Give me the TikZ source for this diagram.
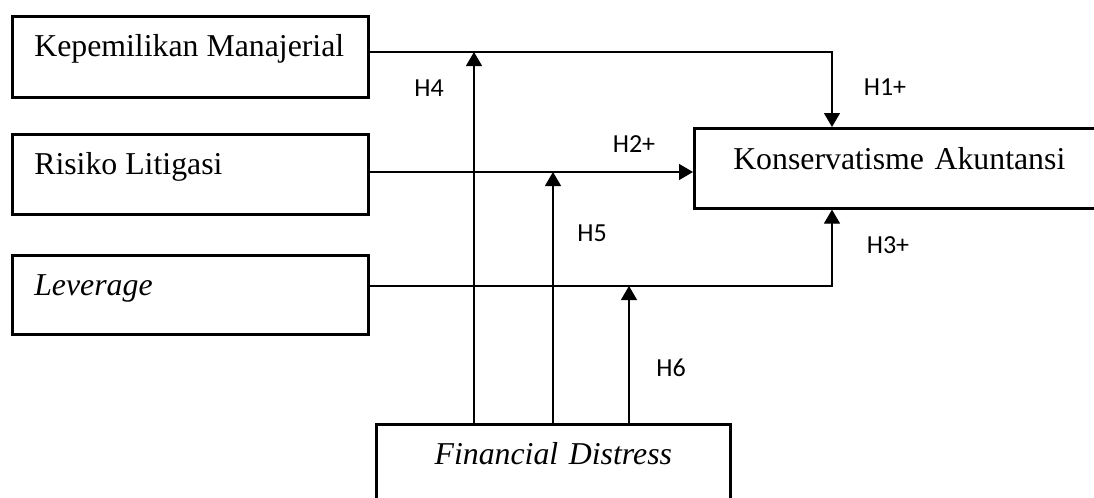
\documentclass[tikz,border=0pt]{standalone}
\usepackage{fontspec}
\setmainfont{Liberation Serif}
\newfontfamily\hypfont{Carlito}
\usetikzlibrary{arrows.meta}
\newcommand{\vartext}[1]{\makebox[156pt][l]{#1}}

\begin{document}
\begin{tikzpicture}[x=0.5pt,y=-0.5pt,
  box/.style={draw,line width=1.3pt,inner ysep=0pt,anchor=north west,
    font=\fontsize{15.9}{19}\selectfont},
  varbox/.style={box,inner xsep=11pt},
  conn/.style={line width=0.6pt,-{Triangle[length=7pt,width=8pt]}},
  hyp/.style={font=\hypfont\fontsize{13}{15}\selectfont}]
  \useasboundingbox (0,0) rectangle (1094,498);
  \clip (0,0) rectangle (1094,498);
  % variables
  \node[varbox,text height=20pt,text depth=20.5pt] (km) at (11,15) {\vartext{Kepemilikan Manajerial}};
  \node[varbox,text height=20pt,text depth=20pt] (rl) at (11,133) {\vartext{Risiko Litigasi}};
  \node[varbox,text height=20pt,text depth=19.5pt] (lev) at (11,254) {\vartext{\textit{Leverage}}};
  \node[box,inner xsep=0pt,text width=205pt,align=center,text height=20.5pt,text depth=19.5pt] (ka) at (693,127) {Konservatisme Akuntansi};
  \node[box,inner xsep=0pt,text width=177pt,align=center,text height=20pt,text depth=20pt] (fd) at (375,423) {\textit{Financial Distress}};
  % junctions
  \coordinate (j1) at (832,52);
  \coordinate (j3) at (832,286);
  \coordinate (m4) at (474,52);
  \coordinate (m5) at (553,172);
  \coordinate (m6) at (629,286);
  % direct paths
  \draw[conn] (km.east |- j1) -- (j1) -- (j1 |- ka.north);
  \draw[conn] (rl.east |- m5) -- (ka.west |- m5);
  \draw[conn] (lev.east |- j3) -- (j3) -- (j3 |- ka.south);
  % moderation
  \draw[conn] (fd.north -| m4) -- (m4);
  \draw[conn] (fd.north -| m5) -- (m5);
  \draw[conn] (fd.north -| m6) -- (m6);
  % labels
  \node[hyp] (h1) at (885,87) {H1+};
  \node[hyp] (h2) at (634,144) {H2+};
  \node[hyp] (h3) at (888,245) {H3+};
  \node[hyp] (h4) at (429,88) {H4};
  \node[hyp] (h5) at (592,233) {H5};
  \node[hyp] (h6) at (671,368) {H6};
\end{tikzpicture}
\end{document}
